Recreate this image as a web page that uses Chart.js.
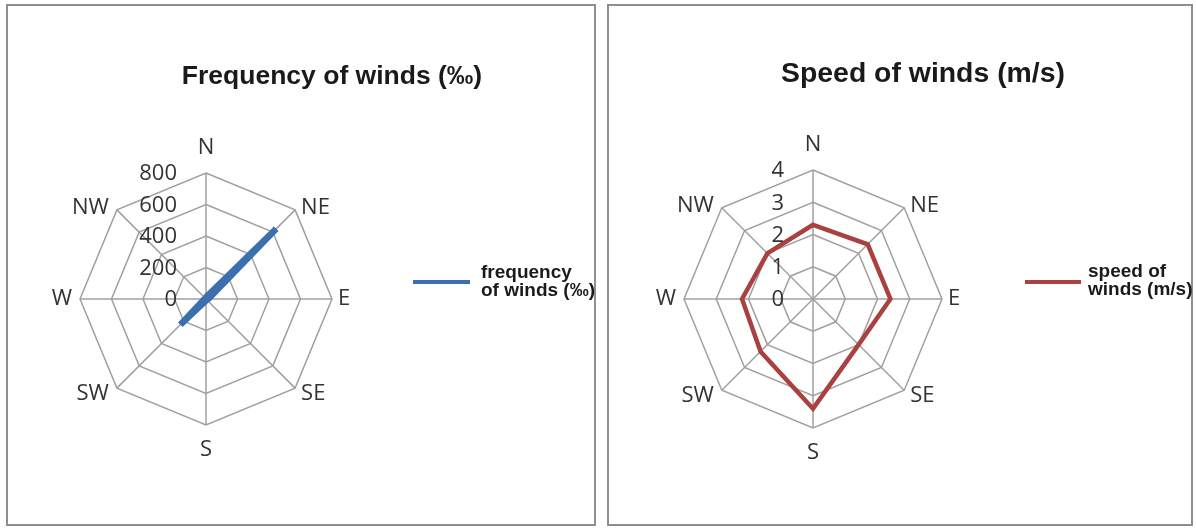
<!DOCTYPE html>
<html>
<head>
<meta charset="utf-8">
<script src="https://cdn.jsdelivr.net/npm/chart.js@4/dist/chart.umd.min.js"></script>
<style>
  html, body { margin: 0; padding: 0; background: #ffffff; }
  body { width: 1196px; height: 529px; position: relative; overflow: hidden; }
  .panel { position: absolute; border: 2px solid #8e8e8e; box-sizing: border-box; background: #fff; }
  .panel canvas { position: absolute; left: 0; top: 0; }
  .title { position: absolute; font-family: "Liberation Sans", Arial, sans-serif;
           font-weight: bold; color: #1a1a1a; white-space: nowrap; transform: translateX(-50%); line-height: 32px; }
  .legend-line { position: absolute; height: 4px; }
  .legend-text { position: absolute; font-family: "Liberation Sans", Arial, sans-serif; font-size: 19px;
                 font-weight: bold; color: #1a1a1a; line-height: 17.5px; white-space: nowrap; z-index: 3; }
</style>
</head>
<body>
<div class="panel" id="p1" style="left:6px;top:4px;width:590px;height:522px;"><canvas id="c1"></canvas></div>
<div class="panel" id="p2" style="left:607px;top:4px;width:586px;height:522px;"><canvas id="c2"></canvas></div>

<div class="title" id="t1" style="left:332px;top:59px;font-size:26.5px;"></div>
<div class="title" id="t2" style="left:923px;top:56px;font-size:28.4px;"></div>

<div class="legend-line" id="l1" style="left:413px;top:280px;width:57px;"></div>
<div class="legend-text" id="lt1" style="left:481px;top:263px;"></div>
<div class="legend-line" id="l2" style="left:1025px;top:280px;width:56px;"></div>
<div class="legend-text" id="lt2" style="left:1088px;top:262px;"></div>

<script>
// Compass directions shared by both roses
const directions = ['N', 'NE', 'E', 'SE', 'S', 'SW', 'W', 'NW'];

// Frequency of winds, per mille
const frequencyTitle = 'Frequency of winds (‰)';
const frequencyLegend = ['frequency', 'of winds (‰)'];
const frequencyValues = [10, 630, 15, 5, 10, 230, 10, 5];
const frequencyTicks = [0, 200, 400, 600, 800];

// Mean speed of winds, m/s
const speedTitle = 'Speed of winds (m/s)';
const speedLegend = ['speed of', 'winds (m/s)'];
const speedValues = [2.3, 2.4, 2.4, 2.0, 3.4, 2.3, 2.2, 2.0];
const speedTicks = [0, 1, 2, 3, 4];

const blue = '#3d6fae';
const red = '#aa4141';
const labelFont = '22px "Open Sans", "Noto Sans", sans-serif';
const labelColor = '#333333';

// Direction names and ring values, placed around the radial scale
const roseLabels = {
  id: 'roseLabels',
  afterDraw(chart) {
    const r = chart.scales.r;
    const ctx = chart.ctx;
    const R = r.drawingArea;
    ctx.save();
    ctx.font = labelFont;
    ctx.fillStyle = labelColor;
    ctx.textBaseline = 'middle';
    // ring values, right-aligned left of the north axis
    const ticks = chart.options.plugins.roseLabels.ticks;
    ticks.forEach(v => {
      const d = r.getDistanceFromCenterForValue(v);
      ctx.textAlign = 'right';
      ctx.fillText(String(v), r.xCenter - 29, r.yCenter - d + 1);
    });
    // compass point names
    chart.data.labels.forEach((name, i) => {
      const p = r.getPointPosition(i, R);
      const dx = p.x - r.xCenter, dy = p.y - r.yCenter;
      if (Math.abs(dx) < 1) {
        ctx.textAlign = 'center';
        ctx.fillText(name, p.x, dy < 0 ? p.y - 25 : p.y + 25);
      } else {
        ctx.textAlign = dx > 0 ? 'left' : 'right';
        const yOff = Math.abs(dy) < 1 ? 0 : (dy < 0 ? -2 : 6);
        ctx.fillText(name, p.x + (dx > 0 ? 6 : -8), p.y + yOff);
      }
    });
    ctx.restore();
  }
};

function makeRose(canvasId, panelW, panelH, values, ticks, color, lineWidth, pad) {
  const cv = document.getElementById(canvasId);
  cv.width = panelW; cv.height = panelH;
  cv.style.width = panelW + 'px'; cv.style.height = panelH + 'px';
  return new Chart(cv, {
    type: 'radar',
    data: {
      labels: directions,
      datasets: [{
        data: values,
        borderColor: color,
        borderWidth: lineWidth,
        backgroundColor: 'rgba(0,0,0,0)',
        fill: false,
        pointRadius: 0,
        pointHoverRadius: 0,
        tension: 0,
        borderJoinStyle: 'miter'
      }]
    },
    options: {
      responsive: false,
      animation: false,
      devicePixelRatio: 1,
      layout: { padding: pad },
      plugins: {
        legend: { display: false },
        title: { display: false },
        tooltip: { enabled: false },
        roseLabels: { ticks: ticks }
      },
      scales: {
        r: {
          min: ticks[0],
          max: ticks[ticks.length - 1],
          ticks: { display: false, stepSize: ticks[1] - ticks[0] },
          pointLabels: { display: false },
          grid: { color: '#a0a0a0', lineWidth: 1.5 },
          angleLines: { color: '#a0a0a0', lineWidth: 1.5 }
        }
      }
    },
    plugins: [roseLabels]
  });
}

// canvas sits inside the 2px panel border
makeRose('c1', 586, 518, frequencyValues, frequencyTicks, blue, 6.5,
  { left: 72, top: 167, right: 262, bottom: 99 });
makeRose('c2', 582, 518, speedValues, speedTicks, red, 4.5,
  { left: 75, top: 164, right: 249, bottom: 96 });

document.getElementById('t1').textContent = frequencyTitle;
document.getElementById('t2').textContent = speedTitle;
document.getElementById('l1').style.background = blue;
document.getElementById('l2').style.background = red;
document.getElementById('lt1').innerHTML = frequencyLegend.join('<br>');
document.getElementById('lt2').innerHTML = speedLegend.join('<br>');
</script>
</body>
</html>
